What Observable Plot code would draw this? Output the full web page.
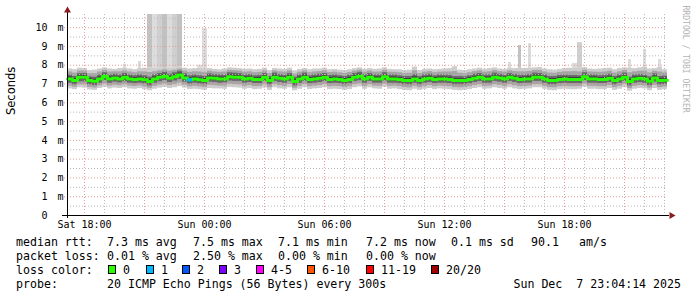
<!DOCTYPE html>
<html><head><meta charset="utf-8">
<script src="https://cdn.jsdelivr.net/npm/d3@7"></script>
<script src="https://cdn.jsdelivr.net/npm/@observablehq/plot@0.6"></script>
<style>
body{margin:0;background:#fff;}
#wrap{position:relative;width:697px;height:297px;overflow:hidden;background:#fff;}
#legend{position:absolute;left:0;top:232px;width:697px;height:65px;font-family:"DejaVu Sans Mono",monospace;font-size:11.6px;color:#000;}
#legend span{position:absolute;white-space:pre;line-height:14px;}
#legend .box{position:absolute;width:8px;height:9px;border:1px solid #000;box-sizing:border-box;}
</style></head><body><div id="wrap"><div id="chart"></div><div id="legend"></div></div>
<script>
// ---- data (30 h window, 15-minute bins, hours counted from Sat 00:00) ----
const binStart = 17.15, binHours = 0.25;
const median = [
7.27,7.18,7.36,7.36,7.18,7.15,7.27,7.41,7.27,7.32, 7.27,7.36,7.27,7.24,7.27,7.22,7.13,7.27,7.36,7.41,
7.30,7.39,7.48,7.32,7.22,7.27,7.22,7.18,7.32,7.30, 7.27,7.27,7.39,7.36,7.36,7.27,7.30,7.24,7.24,7.36,
7.18,7.36,7.30,7.27,7.36,7.13,7.27,7.36,7.24,7.27, 7.30,7.36,7.24,7.27,7.24,7.18,7.24,7.36,7.41,7.27,
7.36,7.27,7.27,7.39,7.27,7.27,7.24,7.18,7.18,7.27, 7.18,7.27,7.30,7.24,7.27,7.27,7.24,7.18,7.18,7.18,
7.24,7.30,7.36,7.27,7.27,7.36,7.32,7.27,7.36,7.30, 7.24,7.27,7.27,7.36,7.36,7.27,7.18,7.18,7.24,7.27,
7.24,7.24,7.24,7.39,7.27,7.27,7.24,7.24,7.30,7.18, 7.27,7.36,7.13,7.27,7.30,7.27,7.15,7.32,7.18,7.20];
const pingMax = [
7.80,7.76,7.84,7.82,7.72,7.74,7.80,7.86,7.80,7.78, 7.82,7.84,7.80,7.76,7.82,7.84,7.86,7.82,7.84,7.88,
7.84,7.86,7.90,7.84,7.80,7.82,7.84,7.80,7.82,7.78, 7.76,7.80,7.86,7.84,7.82,7.78,7.80,7.76,7.78,7.84,
7.72,7.82,7.80,7.78,7.84,7.70,7.78,7.82,7.76,7.80, 7.80,7.84,7.76,7.78,7.74,7.72,7.76,7.82,7.86,7.78,
7.82,7.78,7.80,7.86,7.78,7.76,7.76,7.72,7.74,7.90, 7.72,7.78,7.80,7.76,7.78,7.80,7.82,7.92,7.74,7.72,
7.76,7.80,7.84,7.78,7.82,7.86,7.80,7.78,7.84,7.82, 7.84,7.82,7.84,7.86,7.88,7.80,7.76,7.74,7.78,7.82,
7.84,7.86,7.84,7.88,7.80,7.78,7.80,7.82,7.84,7.76, 7.82,7.86,7.84,7.82,7.86,7.90,7.80,7.82,7.88,7.76];
const pingHigh = [
7.48,7.40,7.55,7.56,7.38,7.36,7.48,7.60,7.48,7.52, 7.48,7.56,7.48,7.44,7.48,7.44,7.36,7.48,7.56,7.62,
7.52,7.60,7.68,7.54,7.44,7.48,7.44,7.40,7.54,7.50, 7.48,7.48,7.60,7.58,7.56,7.48,7.50,7.44,7.46,7.56,
7.40,7.58,7.50,7.48,7.56,7.36,7.48,7.58,7.44,7.48, 7.52,7.56,7.46,7.48,7.44,7.40,7.46,7.56,7.62,7.48,
7.56,7.48,7.48,7.60,7.48,7.48,7.44,7.40,7.40,7.50, 7.40,7.48,7.52,7.44,7.48,7.48,7.46,7.40,7.40,7.38,
7.44,7.52,7.56,7.48,7.48,7.58,7.52,7.48,7.56,7.50, 7.46,7.48,7.50,7.58,7.56,7.48,7.40,7.40,7.46,7.48,
7.46,7.46,7.44,7.60,7.48,7.48,7.44,7.46,7.52,7.40, 7.48,7.58,7.36,7.48,7.50,7.48,7.38,7.54,7.40,7.42];
const pingLow = [
7.04,6.96,7.12,7.12,6.96,6.92,7.04,7.18,7.04,7.10, 7.06,7.12,7.04,7.02,7.04,7.00,6.90,7.04,7.12,7.18,
7.08,7.16,7.24,7.10,7.00,7.04,7.00,6.96,7.10,7.08, 7.04,7.06,7.16,7.14,7.14,7.04,7.08,7.02,7.02,7.14,
6.96,7.14,7.08,7.04,7.14,6.90,7.04,7.14,7.02,7.04, 7.08,7.14,7.02,7.04,7.02,6.96,7.02,7.14,7.18,7.04,
7.14,7.04,7.04,7.16,7.04,7.04,7.02,6.96,6.96,7.04, 6.96,7.04,7.08,7.02,7.04,7.04,7.02,6.96,6.96,6.96,
7.02,7.08,7.14,7.04,7.04,7.14,7.10,7.04,7.14,7.08, 7.02,7.04,7.04,7.14,7.14,7.04,6.96,6.96,7.02,7.04,
7.02,7.02,7.02,7.18,7.04,7.04,7.02,7.02,7.08,6.96, 7.04,7.14,6.90,7.04,7.08,7.04,6.92,7.10,6.96,6.98];
const pingMin = [
6.74,6.70,6.80,6.78,6.68,6.66,6.76,6.82,6.74,6.78, 6.76,6.80,6.74,6.72,6.76,6.70,6.64,6.72,6.78,6.82,
6.76,6.80,6.86,6.78,6.70,6.72,6.70,6.66,6.76,6.74, 6.74,6.72,6.82,6.80,6.78,6.72,6.76,6.70,6.72,6.78,
6.66,6.80,6.74,6.72,6.80,6.64,6.72,6.80,6.70,6.74, 6.76,6.80,6.70,6.72,6.70,6.66,6.70,6.80,6.84,6.72,
6.80,6.74,6.72,6.82,6.72,6.74,6.70,6.66,6.64,6.72, 6.66,6.72,6.76,6.70,6.74,6.72,6.70,6.66,6.64,6.66,
6.70,6.76,6.80,6.72,6.74,6.80,6.76,6.72,6.80,6.74, 6.70,6.72,6.74,6.80,6.80,6.72,6.66,6.64,6.70,6.72,
6.70,6.70,6.72,6.82,6.72,6.72,6.70,6.70,6.76,6.66, 6.72,6.80,6.62,6.72,6.76,6.74,6.64,6.76,6.66,6.70];
// outlier pings (bin index, highest rtt in ms, number of pings that high)
const spikeBins   = [11,   14,  16,  17,  18,  19,  20,  21,  22,  26,  27,   88,  90,  92,  101, 102, 112, 115, 118];
const spikeTops   = [8.05, 8.2, 11.5,11.5,11.5,11.5,11.5,11.5,11.5,8.0, 9.95, 8.15,9.05,9.15,8.1, 9.2, 8.3, 8.85,8.3];
const spikeCounts = [1,    1,   3,   1,   2,   3,   1,   2,   3,   1,   1,    1,   3,   1,   1,   2,   1,   1,   1];
// packet loss (bin index, pings lost of 20)
const lossBins = [24];
const lossCounts = [1];
const lossLabels = ["0","1","2","3","4-5","6-10","11-19","20/20"];
const lossColors = ["#26ff00","#00b8ff","#0059ff","#7e00ff","#ff00ff","#ff5500","#ff0000","#a10000"];
const yTicks = [0,1,2,3,4,5,6,7,8,9,10];
const xTickHours = [18,24,30,36,42];
const xTickLabels = ["Sat 18:00","Sun 00:00","Sun 06:00","Sun 12:00","Sun 18:00"];
const rttStats = ["median rtt:","7.3 ms avg","7.5 ms max","7.1 ms min","7.2 ms now","0.1 ms sd","90.1","am/s"];
const lossStats = ["packet loss:","0.01 % avg","2.50 % max","0.00 % min","0.00 % now"];
const probeText = ["probe:","20 ICMP Echo Pings (56 Bytes) every 300s"];
const stampText = "Sun Dec  7 23:04:14 2025";

// ---- build ----
const rows = median.map((m,i)=>({
  t0: binStart + i*binHours, t1: binStart + (i+1)*binHours,
  median: m, min: pingMin[i], low: pingLow[i], high: pingHigh[i], max: pingMax[i]
}));
const spikes = spikeBins.map((b,i)=>({t0: rows[b].t0, t1: rows[b].t1, base: rows[b].max, top: spikeTops[i], n: spikeCounts[i],
  cluster: spikeBins.includes(b-1) || spikeBins.includes(b+1)}));
const lossRows = lossBins.map((b,i)=>({t0: rows[b].t0, t1: rows[b].t1, median: rows[b].median, lost: lossCounts[i]}));
const stepPts = rows.map(r=>({t:r.t0, v:r.median})).concat([{t: rows[rows.length-1].t1, v: rows[rows.length-1].median}]);
const spikeShade = d3.scaleLinear([1,3],["#dcdcdc","#c2c2c2"]);
const lossColor = n => n===0?lossColors[0]:n===1?lossColors[1]:n===2?lossColors[2]:n===3?lossColors[3]:n<=5?lossColors[4]:n<=10?lossColors[5]:n<20?lossColors[6]:lossColors[7];
const xEnd = binStart + median.length*binHours;
const minorHours = d3.range(18, Math.floor(xEnd)+1).filter(h=>h%3!==0);
const majorHours = d3.range(18, Math.floor(xEnd)+1).filter(h=>h%3===0);
const minorMs = d3.range(0.5, 10.6, 1);
const majorMs = yTicks.filter(d=>d>0);

const chart = Plot.plot({
  width: 697, height: 232,
  marginLeft: 67, marginRight: 30, marginTop: 14, marginBottom: 17,
  style: {fontFamily: "DejaVu Sans Mono", fontSize: "10px", background: "white", color: "black"},
  x: {domain: [binStart, xEnd]},
  y: {domain: [0, 10.7]},
  marks: [
    Plot.rect(spikes.filter(d=>d.cluster), {x1:"t0", x2:"t1", y1:"base", y2:"top", fill: d=>spikeShade(d.n), clip:true}),
    Plot.rect(spikes.filter(d=>!d.cluster), {x1:"t0", x2:"t1", y1:"base", y2:"top", fill: d=>spikeShade(d.n), insetLeft:1, insetRight:1, clip:true}),
    Plot.rect(rows, {x1:"t0", x2:"t1", y1:"min", y2:"max", fill:"#cdcdcd"}),
    Plot.rect(rows, {x1:"t0", x2:"t1", y1:d=>(d.min+d.low)/2, y2:d=>(d.high+d.max)/2, fill:"#a4a4a4"}),
    Plot.rect(rows, {x1:"t0", x2:"t1", y1:"low", y2:"high", fill:"#6a6a6a"}),
    Plot.rect(rows, {x1:"t0", x2:"t1", y1:d=>(d.low+d.median)/2, y2:d=>(d.high+d.median)/2, fill:"#3e3e3e"}),
    Plot.ruleX(minorHours, {stroke:"#b8b8b8", strokeDasharray:"1,2"}),
    Plot.ruleX(majorHours, {stroke:"#e89a9a", strokeDasharray:"1,2"}),
    Plot.ruleY(minorMs, {stroke:"#b8b8b8", strokeDasharray:"1,2"}),
    Plot.ruleY(majorMs, {stroke:"#e89a9a", strokeDasharray:"1,2", insetLeft:-3}),
    Plot.line(stepPts, {x:"t", y:"v", curve:"step-after", stroke:lossColors[0], strokeWidth:3}),
    Plot.ruleY(lossRows, {x1:"t0", x2:"t1", y:"median", stroke:d=>lossColor(d.lost), strokeWidth:3}),
    Plot.ruleY([0], {stroke:"black", insetLeft:-5, insetRight:-2}),
    Plot.ruleX([binStart], {stroke:"black", insetTop:-3, insetBottom:-3}),
    Plot.dot([0], {frameAnchor:"top-left", dy:-4, symbol:"triangle", r:2.6, fill:"#8b1c1c", stroke:"none"}),
    Plot.dot([0], {frameAnchor:"bottom-right", dx:4, rotate:90, symbol:"triangle", r:2.6, fill:"#8b1c1c", stroke:"none"}),
    Plot.axisX({ticks: xTickHours, tickFormat: d=>xTickLabels[xTickHours.indexOf(d)], tickSize:0, tickPadding:5, fontSize:10}),
    Plot.axisY({ticks: yTicks, tickFormat: d=>String(d), tickSize:0, tickPadding:20, fontSize:10}),
    Plot.text(majorMs, {y:d=>d, frameAnchor:"left", dx:-10, text:()=>"m", fontSize:10}),
    Plot.text(["Seconds"], {frameAnchor:"left", dx:-56, rotate:-90, text:d=>d, fontFamily:"DejaVu Sans", fontSize:11.5}),
    Plot.text(["RRDTOOL / TOBI OETIKER"], {frameAnchor:"top-right", dx:21, dy:-9, rotate:90, textAnchor:"start", text:d=>d, fill:"#b4b4b4", fontSize:8.1})
  ]
});
document.getElementById("chart").appendChild(chart);

// ---- text block below the graph ----
const lg = document.getElementById("legend");
function put(text, left, top, align){
  const s = document.createElement("span");
  s.textContent = text; s.style.top = top+"px";
  if (align === "right") s.style.right = (697-left)+"px"; else s.style.left = left+"px";
  lg.appendChild(s);
}
const rttX = [16,107,193,278,366,451,531,579];
rttStats.forEach((t,i)=>put(t, rttX[i], 2.5));
const lossX = [16,107,193,278,366];
lossStats.forEach((t,i)=>put(t, lossX[i], 16.5));
put("loss color:", 16, 30.5);
const boxX = [108,146,182,219,256,307,366,431];
lossLabels.forEach((t,i)=>{
  const b = document.createElement("div"); b.className="box";
  b.style.left = boxX[i]+"px"; b.style.top = "33px"; b.style.background = lossColors[i];
  lg.appendChild(b);
  put(t, boxX[i]+15, 30.5);
});
put(probeText[0], 16, 44.5);
put(probeText[1], 107, 44.5);
put(stampText, 681, 44.5, "right");
</script></body></html>
